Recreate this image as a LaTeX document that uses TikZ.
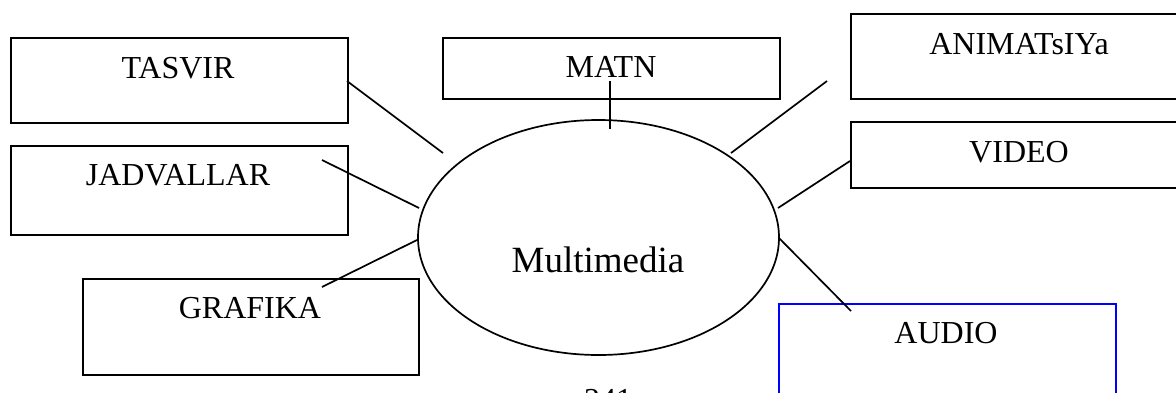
\documentclass[tikz,border=0pt]{standalone}
\usepackage{fontspec}
\setmainfont{Liberation Serif}
\usetikzlibrary{shapes.geometric}
\begin{document}
\begin{tikzpicture}[x=1pt,y=-1pt,
  boxnode/.style={draw=black,line width=2pt,rectangle,inner sep=0pt,anchor=north west},
  lbl/.style={anchor=base,inner sep=0pt,font=\fontsize{32}{38}\selectfont},
  conn/.style={line width=1.7pt,draw=black}]
\useasboundingbox (0,0) rectangle (1176,392);
\clip (0,0) rectangle (1176,392);
% boxes
\node[boxnode,minimum width=337pt,minimum height=85pt] (tasvir) at (10,37) {};
\node[boxnode,minimum width=337pt,minimum height=89pt] (jadval) at (10,145) {};
\node[boxnode,minimum width=336pt,minimum height=96pt] (grafika) at (82,278) {};
\node[boxnode,minimum width=337pt,minimum height=61pt] (matn) at (442,37) {};
\node[boxnode,minimum width=338pt,minimum height=85pt] (anim) at (850,13) {};
\node[boxnode,minimum width=338pt,minimum height=66pt] (video) at (850,121) {};
\node[boxnode,draw={rgb,255:red,0;green,0;blue,255},line width=1.9pt,minimum width=337pt,minimum height=120pt] (audio) at (778,303) {};
% labels
\node[lbl] (tasvirT) at (178,78) {TASVIR};
\node[lbl] (jadvalT) at (178,185) {JADVALLAR};
\node[lbl] (grafikaT) at (250,318) {GRAFIKA};
\node[lbl] (matnT) at (611,77) {MATN};
\node[lbl] (animT) at (1019,54) {ANIMATsIYa};
\node[lbl] (videoT) at (1019,162) {VIDEO};
\node[lbl] (audioT) at (946,343) {AUDIO};
\node[lbl] (page) at (608,410) {241};
% ellipse
\node[ellipse,draw=black,line width=1.7pt,minimum width=361pt,minimum height=235pt,inner sep=0pt] (multi) at (598.5,237.5) {};
\node[anchor=base,inner sep=0pt,font=\fontsize{37}{44}\selectfont] (multiT) at (598,272) {Multimedia};
% connector end points
\coordinate (a1) at (347,81);   \coordinate (b1) at (443,153);
\coordinate (a2) at (322,160);  \coordinate (b2) at (419,208);
\coordinate (a3) at (322,287);  \coordinate (b3) at (417,240);
\coordinate (a4) at (610,81);   \coordinate (b4) at (610,129);
\coordinate (a5) at (827,81);   \coordinate (b5) at (731,153);
\coordinate (a6) at (850,161);  \coordinate (b6) at (778,208);
\coordinate (a7) at (779,238);  \coordinate (b7) at (851,311);
% connectors
\draw[conn] (a1) -- (b1);
\draw[conn] (a2) -- (b2);
\draw[conn] (a3) -- (b3);
\draw[conn] (a4) -- (b4);
\draw[conn] (a5) -- (b5);
\draw[conn] (a6) -- (b6);
\draw[conn] (a7) -- (b7);
\end{tikzpicture}
\end{document}
